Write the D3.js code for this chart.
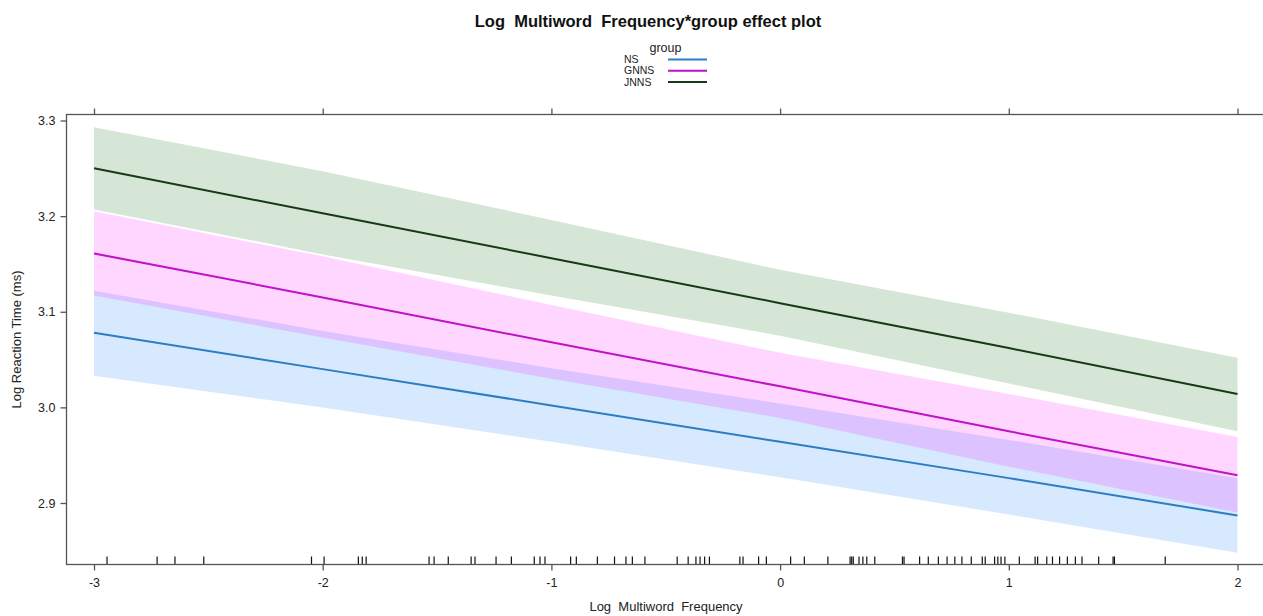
<!DOCTYPE html>
<html>
<head>
<meta charset="utf-8">
<script src="https://cdn.jsdelivr.net/npm/d3@7"></script>
<style>
  html, body { margin: 0; padding: 0; background: #fff; }
  svg { display: block; font-family: "Liberation Sans", Arial, sans-serif; }
  text { white-space: pre; }
</style>
</head>
<body>
<svg id="chart" width="1263" height="616"></svg>
<script>
// ---------- data ----------
const groups = ["NS", "GNNS", "JNNS"];
const xPoints = [-3, -2, -1, 0, 1, 2];

const nsFit   = [3.078, 3.040, 3.002, 2.964, 2.926, 2.887];
const nsLower = [3.033, 3.000, 2.964, 2.927, 2.888, 2.848];
const nsUpper = [3.122, 3.080, 3.041, 3.004, 2.966, 2.926];

const gnnsFit   = [3.161, 3.115, 3.068, 3.022, 2.975, 2.929];
const gnnsLower = [3.117, 3.073, 3.030, 2.989, 2.938, 2.890];
const gnnsUpper = [3.205, 3.158, 3.107, 3.057, 3.014, 2.969];

const jnnsFit   = [3.250, 3.203, 3.156, 3.109, 3.062, 3.014];
const jnnsLower = [3.207, 3.160, 3.117, 3.075, 3.025, 2.975];
const jnnsUpper = [3.293, 3.247, 3.196, 3.144, 3.099, 3.052];

const xTicks = [-3, -2, -1, 0, 1, 2];
const yTicks = [2.9, 3.0, 3.1, 3.2, 3.3];
const yTickLabels = ["2.9", "3.0", "3.1", "3.2", "3.3"];

const rugValues = [
  -2.943, -2.724, -2.646, -2.520, -2.049, -1.994, -1.844, -1.827, -1.810,
  -1.535, -1.513, -1.451, -1.351, -1.334, -1.242, -1.175, -1.075, -1.050, -1.028,
  -0.916, -0.891, -0.799, -0.724, -0.674, -0.646, -0.591,
  -0.450, -0.402, -0.368, -0.350, -0.330, -0.309, -0.176, -0.162, -0.094, -0.060,
  0.046, 0.106, 0.209, 0.306, 0.313, 0.320, 0.345, 0.362, 0.379, 0.414,
  0.535, 0.542, 0.610, 0.648, 0.692, 0.730, 0.764, 0.795, 0.836, 0.884, 0.897,
  0.938, 0.952, 0.966, 0.983, 1.046, 1.115, 1.126, 1.166, 1.191, 1.222, 1.256,
  1.291, 1.320, 1.393, 1.456, 1.462, 1.684
];

const titleText = "Log  Multiword  Frequency*group effect plot";
const xLabel = "Log  Multiword  Frequency";
const yLabel = "Log Reaction Time (ms)";
const legendTitle = "group";

// ---------- layout ----------
const svg = d3.select("#chart");
const frame = { left: 66.5, top: 114.5, right: 1266, bottom: 564.5 };

const x = d3.scaleLinear().domain([-3, 2]).range([94, 1237.5]);
const y = d3.scaleLinear().domain([2.9, 3.3]).range([503, 120.5]);

const lineColors = { NS: "#2b7dc4", GNNS: "#c012c6", JNNS: "#163a16" };
const bandColors = { NS: "rgb(0,120,255)", GNNS: "rgb(255,0,255)", JNNS: "rgb(0,100,0)" };

const series = [
  { name: "NS", fit: nsFit, lower: nsLower, upper: nsUpper },
  { name: "GNNS", fit: gnnsFit, lower: gnnsLower, upper: gnnsUpper },
  { name: "JNNS", fit: jnnsFit, lower: jnnsLower, upper: jnnsUpper }
];

// ---------- bands & lines ----------
const area = d3.area()
  .x(d => x(d.x)).y0(d => y(d.lo)).y1(d => y(d.hi));
const line = d3.line().x(d => x(d.x)).y(d => y(d.v));

const plot = svg.append("g");
series.forEach(s => {
  const pts = xPoints.map((xv, i) => ({ x: xv, lo: s.lower[i], hi: s.upper[i], v: s.fit[i] }));
  plot.append("path").attr("d", area(pts))
    .attr("fill", bandColors[s.name]).attr("fill-opacity", 0.16);
});
series.forEach(s => {
  const pts = xPoints.map((xv, i) => ({ x: xv, v: s.fit[i] }));
  plot.append("path").attr("d", line(pts))
    .attr("fill", "none").attr("stroke", lineColors[s.name]).attr("stroke-width", 2);
});

// ---------- rug ----------
svg.append("g").selectAll("line").data(rugValues).join("line")
  .attr("x1", d => x(d)).attr("x2", d => x(d))
  .attr("y1", frame.bottom).attr("y2", frame.bottom - 8)
  .attr("stroke", "#111").attr("stroke-width", 1.2);

// ---------- frame ----------
svg.append("rect")
  .attr("x", frame.left).attr("y", frame.top)
  .attr("width", frame.right - frame.left).attr("height", frame.bottom - frame.top)
  .attr("fill", "none").attr("stroke", "#555").attr("stroke-width", 1.3);

// ---------- axes ----------
const axisColor = "#555";
const bottomAxis = d3.axisBottom(x).tickValues(xTicks).tickSize(6).tickPadding(8)
  .tickFormat(d3.format("d"));
const gb = svg.append("g").attr("transform", `translate(0,${frame.bottom})`).call(bottomAxis);
gb.select(".domain").remove();
gb.selectAll(".tick line").attr("stroke", axisColor).attr("stroke-width", 1.3);
gb.selectAll(".tick text").attr("font-size", 12.5).attr("fill", "#222")
  .attr("font-family", "Liberation Sans, Arial, sans-serif")
  .text(d => d < 0 ? "-" + Math.abs(d) : String(d));

const topAxis = d3.axisTop(x).tickValues(xTicks).tickSize(6).tickFormat("");
const gt = svg.append("g").attr("transform", `translate(0,${frame.top})`).call(topAxis);
gt.select(".domain").remove();
gt.selectAll(".tick line").attr("stroke", axisColor).attr("stroke-width", 1.3);

const leftAxis = d3.axisLeft(y).tickValues(yTicks).tickSize(6).tickPadding(5)
  .tickFormat((d, i) => yTickLabels[i]);
const gl = svg.append("g").attr("transform", `translate(${frame.left},0)`).call(leftAxis);
gl.select(".domain").remove();
gl.selectAll(".tick line").attr("stroke", axisColor).attr("stroke-width", 1.3);
gl.selectAll(".tick text").attr("font-size", 12.5).attr("fill", "#222")
  .attr("font-family", "Liberation Sans, Arial, sans-serif");

// ---------- titles ----------
svg.append("text").attr("x", 648).attr("y", 27).attr("text-anchor", "middle")
  .attr("font-size", 16.5).attr("font-weight", "bold").attr("fill", "#111")
  .text(titleText);

svg.append("text").attr("x", 666).attr("y", 611).attr("text-anchor", "middle")
  .attr("font-size", 13).attr("fill", "#222").text(xLabel);

svg.append("text").attr("transform", `translate(21,${(frame.top + frame.bottom) / 2}) rotate(-90)`)
  .attr("text-anchor", "middle").attr("font-size", 13).attr("fill", "#222").text(yLabel);

// ---------- legend ----------
const leg = svg.append("g");
leg.append("text").attr("x", 665.5).attr("y", 52).attr("text-anchor", "middle")
  .attr("font-size", 12.5).attr("fill", "#222").text(legendTitle);
groups.forEach((g, i) => {
  const cy = 59.5 + i * 11.3;
  leg.append("text").attr("x", 624).attr("y", cy + 3.6)
    .attr("font-size", 10.5).attr("fill", "#222").text(g);
  leg.append("line").attr("x1", 668).attr("x2", 707).attr("y1", cy).attr("y2", cy)
    .attr("stroke", lineColors[g]).attr("stroke-width", 2);
});
</script>
</body>
</html>
